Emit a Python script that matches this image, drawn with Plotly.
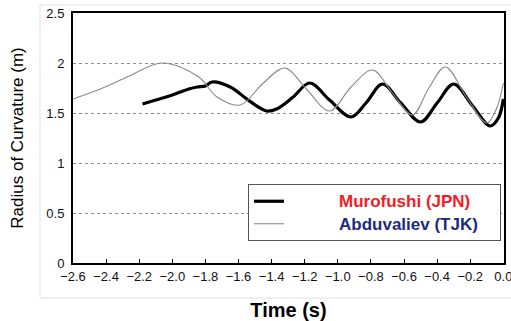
import plotly.graph_objects as go

# Murofushi (JPN) - thick black
muro_t = [-2.18, -2.10, -2.00, -1.90, -1.85, -1.80, -1.76, -1.65, -1.55, -1.47, -1.43, -1.37,
          -1.27, -1.17, -1.05, -0.92, -0.83, -0.73, -0.62, -0.50, -0.40, -0.30, -0.19,
          -0.08, -0.03, 0.0]
muro_v = [1.59, 1.63, 1.68, 1.74, 1.76, 1.77, 1.81, 1.76, 1.64, 1.55, 1.52, 1.54,
          1.66, 1.80, 1.63, 1.46, 1.60, 1.79, 1.60, 1.41, 1.60, 1.79, 1.58,
          1.37, 1.45, 1.64]

# Abduvaliev (TJK) - thin gray
abdu_t = [-2.60, -2.42, -2.26, -2.06, -1.84, -1.73, -1.59, -1.45, -1.32, -1.19, -1.05,
          -0.92, -0.79, -0.67, -0.55, -0.45, -0.35, -0.22, -0.10, -0.04, 0.0]
abdu_v = [1.64, 1.75, 1.87, 2.00, 1.86, 1.66, 1.58, 1.80, 1.95, 1.74, 1.52,
          1.76, 1.93, 1.70, 1.48, 1.75, 1.96, 1.65, 1.40, 1.55, 1.80]

x_ticks = [-2.6, -2.4, -2.2, -2.0, -1.8, -1.6, -1.4, -1.2, -1.0, -0.8, -0.6, -0.4, -0.2, 0.0]
x_ticklabels = ["\u22122.6", "\u22122.4", "\u22122.2", "\u22122.0", "\u22121.8", "\u22121.6", "\u22121.4",
                "\u22121.2", "\u22121.0", "\u22120.8", "\u22120.6", "\u22120.4", "\u22120.2", "0.0"]
y_ticks = [0, 0.5, 1, 1.5, 2, 2.5]
y_ticklabels = ["0", "0.5", "1", "1.5", "2", "2.5"]

pad = "&nbsp;" * 12
tail = "&nbsp;" * 4
fig = go.Figure()
fig.add_trace(go.Scatter(
    x=muro_t, y=muro_v, mode="lines", line=dict(color="black", width=3.2, shape="spline", smoothing=1.0),
    name=pad + "<span style='color:#F41C24;font-size:17px'><b>Murofushi (JPN)</b></span>" + tail))
fig.add_trace(go.Scatter(
    x=abdu_t, y=abdu_v, mode="lines", line=dict(color="#8a8a8a", width=1.1, shape="spline", smoothing=1.0),
    name=pad + "<span style='color:#1C2B7F;font-size:17px'><b>Abduvaliev (TJK)</b></span>" + tail))

fig.update_layout(
    width=511, height=321,
    margin=dict(l=73, r=7, t=13, b=58),
    paper_bgcolor="white", plot_bgcolor="white",
    font=dict(family="Liberation Sans, Arial, sans-serif", color="black"),
    showlegend=True,
    legend=dict(x=0.406, y=0.316, xanchor="left", yanchor="top",
                bordercolor="#555555", borderwidth=1, bgcolor="white",
                font=dict(size=15, family="Liberation Sans, Arial, sans-serif"),
                tracegroupgap=0),
    xaxis=dict(range=[-2.6, 0.004], tickvals=x_ticks, ticktext=x_ticklabels,
               showgrid=False, zeroline=False, automargin=False,
               showline=True, linecolor="black", linewidth=2, mirror=True,
               ticks="inside", ticklen=4, tickcolor="black", ticklabeloverflow="allow",
               tickfont=dict(size=13, family="Liberation Sans Narrow, Liberation Sans, Arial", color="#111"),
               title=dict(text="<b>Time (s)</b>", font=dict(size=20), standoff=21)),
    yaxis=dict(range=[0, 2.5], tickvals=y_ticks, ticktext=y_ticklabels,
               showgrid=True, gridcolor="#8c8c8c", griddash="dot", gridwidth=1,
               zeroline=False, ticklabeloverflow="allow", automargin=False,
               showline=True, linecolor="black", linewidth=2, mirror=True,
               ticks="", tickfont=dict(size=13, family="Liberation Sans, Arial", color="#111"),
               ticklabelstandoff=4,
               title=dict(text="Radius of Curvature (m)", font=dict(size=17), standoff=18)),
    shapes=[dict(type="rect", xref="paper", yref="paper",
                 x0=-0.0766, x1=1.03, y0=-0.14, y1=1.032,
                 line=dict(color="#e2e2e2", width=1), layer="below")],
)

fig.write_html("out.html", config={"displayModeBar": False},
               post_script="document.body.style.margin='0';")
